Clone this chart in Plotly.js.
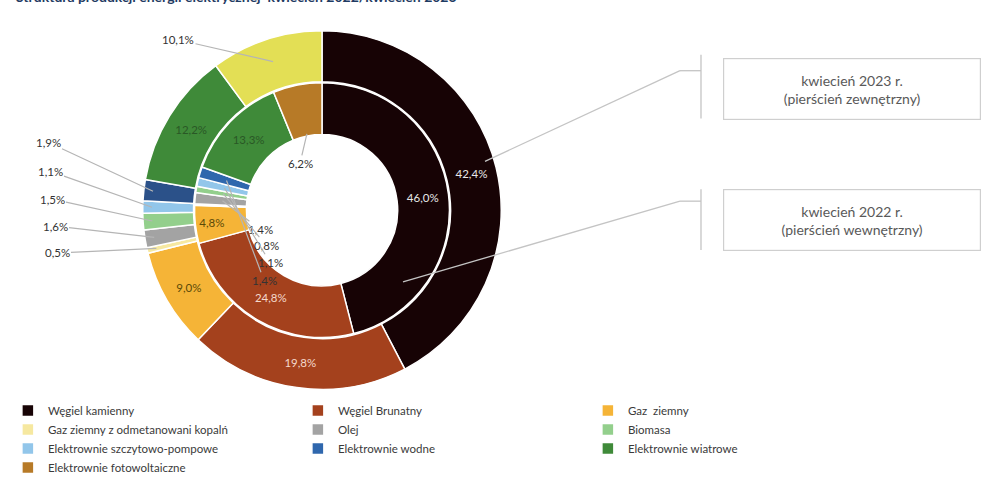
<!DOCTYPE html>
<html><head><meta charset="utf-8">
<script src="https://cdn.plot.ly/plotly-3.0.1.min.js"></script>
<style>html,body{margin:0;padding:0;background:#fff;}#chart{width:985px;height:482px;}</style>
</head><body><div id="chart"></div>
<script>
// ---- data ----
const categories = ['Węgiel kamienny','Węgiel Brunatny','Gaz  ziemny','Gaz ziemny z odmetanowani kopalń','Olej','Biomasa','Elektrownie szczytowo-pompowe','Elektrownie wodne','Elektrownie wiatrowe','Elektrownie fotowoltaiczne'];
const values2023 = [42.4, 19.8, 9.0, 0.5, 1.6, 1.5, 1.1, 1.9, 12.2, 10.1];
const values2022 = [46.0, 24.8, 4.8, 0.2, 1.4, 0.8, 1.1, 1.4, 13.3, 6.2];
const colors2022 = ['#170305','#a4411d','#f5b437','#f6e8a0','#a3a3a3','#93cf8c','#92c6ea','#2f67ad','#3f8a39','#b77a27'];
const colors2023 = ['#170305','#a4411d','#f5b437','#f6e8a0','#a3a3a3','#93cf8c','#92c6ea','#2b5189','#3f8a39','#e3df55'];
const ringLabels = ['kwiecień 2023 r.<br>(pierścień zewnętrzny)', 'kwiecień 2022 r.<br>(pierścień wewnętrzny)'];
const chartTitle = 'Struktura produkcji energii elektrycznej  kwiecień 2022/kwiecień 2023';

// ---- geometry / style ----
const W = 985, H = 482;
const cx = 322, cy = 211, rOuter = 180, rMid = 128, rHole = 76;
const FONT = 'Lato, "Liberation Sans", sans-serif';
const px = x => x / W, py = y => 1 - y / H;
const fmt = v => v.toFixed(1).replace('.', ',') + '%';

const textPosOuter = ['inside','inside','inside','none','none','none','none','none','inside','none'];
const textPosInner = ['inside','inside','inside','none','none','none','none','none','inside','none'];
const textColOuter = ['#e8e8e8','#f4d9cc','#5b4a08','#000','#000','#000','#000','#000','#2a5826','#000'];
const textColInner = ['#e8e8e8','#f4d9cc','#5b4a08','#000','#000','#000','#000','#000','#2a5826','#000'];

function ringPoint(vals, idx, r) {
  const sum = vals.reduce((a, b) => a + b, 0);
  let start = 0;
  for (let i = 0; i < idx; i++) start += vals[i];
  const ang = (start + vals[idx] / 2) / sum * 2 * Math.PI;
  return [cx + r * Math.sin(ang), cy - r * Math.cos(ang)];
}

const inner = {
  type: 'pie', name: 'kwiecień 2022', labels: categories, values: values2022,
  sort: false, direction: 'clockwise', rotation: 0,
  hole: rHole / rMid,
  domain: { x: [px(cx - rMid), px(cx + rMid)], y: [py(cy + rMid), py(cy - rMid)] },
  marker: { colors: colors2022, line: { color: '#ffffff', width: 1.5 } },
  texttemplate: '%{value:.1f}%', textposition: textPosInner,
  insidetextorientation: 'horizontal',
  insidetextfont: { color: textColInner, size: 11.5, family: FONT },
  hoverinfo: 'none'
};
const outer = {
  type: 'pie', name: 'kwiecień 2023', labels: categories, values: values2023,
  sort: false, direction: 'clockwise', rotation: 0,
  hole: (rMid + 1) / rOuter,
  domain: { x: [px(cx - rOuter), px(cx + rOuter)], y: [py(cy + rOuter), py(cy - rOuter)] },
  marker: { colors: colors2023, line: { color: '#ffffff', width: 1.5 } },
  texttemplate: '%{value:.1f}%', textposition: textPosOuter,
  insidetextorientation: 'horizontal',
  insidetextfont: { color: textColOuter, size: 11.5, family: FONT },
  hoverinfo: 'none', showlegend: false
};

// leader-line labels
const outerLabelPos = { 3: [57, 254], 4: [55, 227], 5: [52, 200], 6: [50, 172], 7: [48, 143], 9: [178, 40] };
const innerLabelPos = { 4: [260, 230], 5: [266, 246], 6: [270, 263], 7: [264, 281], 9: [300, 164] };
const annotations = [];
function leader(vals, idx, r, pos) {
  const [x0, y0] = ringPoint(vals, idx, r);
  annotations.push({
    x: px(x0), y: py(y0), xref: 'paper', yref: 'paper',
    ax: pos[0] - x0, ay: pos[1] - y0, axref: 'pixel', ayref: 'pixel',
    showarrow: true, arrowhead: 0, arrowwidth: 1.2, arrowcolor: '#b5b5b5', standoff: 0,
    text: fmt(vals[idx]), font: { family: FONT, size: 11.5, color: '#333333' }
  });
}
Object.keys(outerLabelPos).forEach(k => leader(values2023, +k, +k === 9 ? 157 : 170, outerLabelPos[k]));
Object.keys(innerLabelPos).forEach(k => leader(values2022, +k, +k === 9 ? 78 : 100, innerLabelPos[k]));

// ring caption boxes
[[89, ringLabels[0]], [221, ringLabels[1]]].forEach(([yc, t]) => {
  annotations.push({
    x: px(852), y: py(yc), xref: 'paper', yref: 'paper', xanchor: 'center', yanchor: 'middle',
    showarrow: false, text: t, align: 'center', width: 254, height: 58,
    bordercolor: '#cfcfcf', borderwidth: 1.2, bgcolor: '#ffffff',
    font: { family: FONT, size: 14, color: '#595959' }
  });
});
// title (cut at the top edge, as in the reference)
annotations.push({
  x: px(14), y: 1, xref: 'paper', yref: 'paper', xanchor: 'left', yanchor: 'bottom', yshift: -7,
  showarrow: false, text: '<b>' + chartTitle + '</b>',
  font: { family: FONT, size: 14, color: '#1f3b63' }
});

const lc = { color: '#c4c4c4', width: 1.3 };
const seg = (x0, y0, x1, y1) => ({ type: 'line', xref: 'paper', yref: 'paper', x0: px(x0), y0: py(y0), x1: px(x1), y1: py(y1), line: lc });
const shapes = [
  seg(485, 162, 680, 71), seg(680, 71, 701, 71), seg(701, 55, 701, 119),
  seg(403, 283, 680, 202), seg(680, 202, 701, 202), seg(701, 190, 701, 251)
];

const layout = {
  width: W, height: H, margin: { l: 0, r: 0, t: 0, b: 0 },
  paper_bgcolor: '#ffffff', plot_bgcolor: '#ffffff',
  separators: ', ',
  font: { family: FONT, size: 11, color: '#404040' },
  showlegend: true,
  legend: {
    orientation: 'h', x: 0.008, xanchor: 'left', y: py(398), yanchor: 'top',
    entrywidth: 245, entrywidthmode: 'pixels', traceorder: 'normal',
    font: { family: FONT, size: 11.5, color: '#3a3a3a' }, bgcolor: 'rgba(0,0,0,0)'
  },
  annotations, shapes
};
Plotly.newPlot('chart', [inner, outer], layout, { displayModeBar: false, staticPlot: true });
</script></body></html>
